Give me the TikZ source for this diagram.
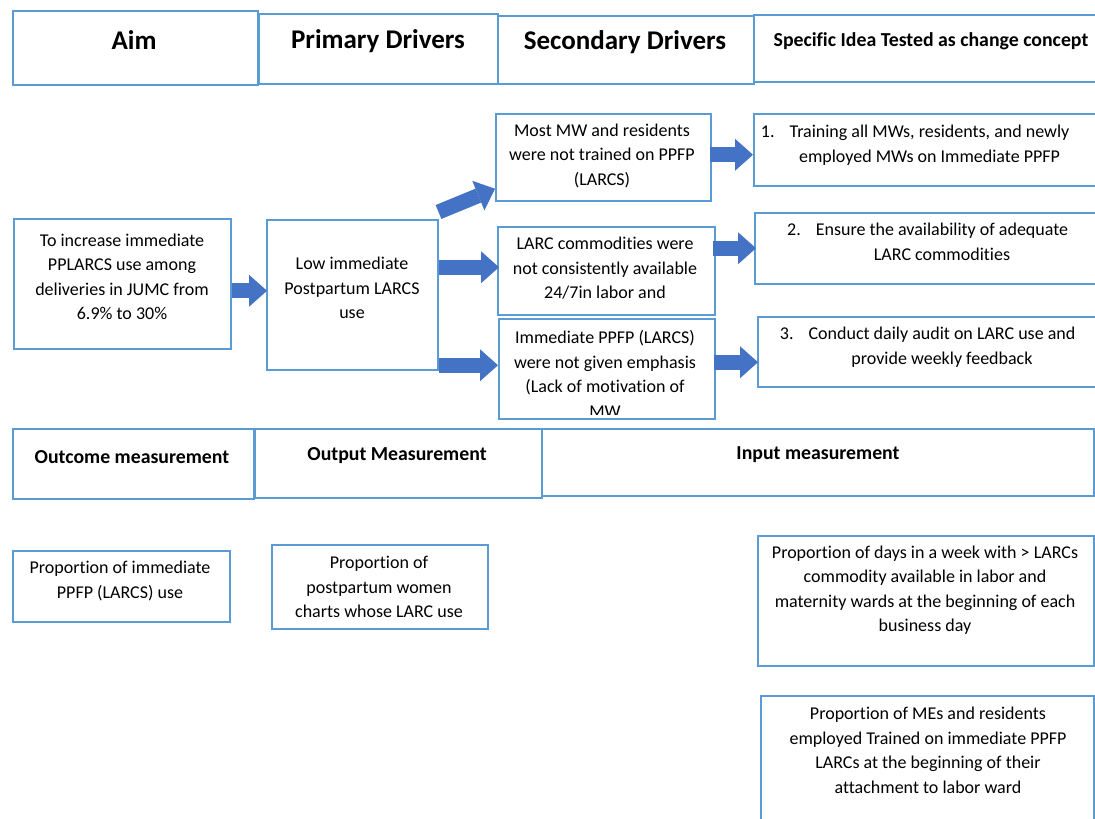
\documentclass[tikz,border=0pt]{standalone}
\usepackage{fontspec}
\setmainfont{Carlito}[Ligatures=CommonOff]
\usetikzlibrary{arrows.meta,calc}
\definecolor{boxblue}{RGB}{91,155,213}
\definecolor{arrblue}{RGB}{68,114,196}
\tikzset{
  box/.style={draw=boxblue, line width=1.5pt, rectangle, inner sep=0pt, anchor=north west},
  txt/.style={align=center, inner sep=0pt, font=\fontsize{18}{24.5}\selectfont},
  hdr/.style={inner sep=0pt, font=\bfseries\fontsize{27}{30}\selectfont},
  hdrs/.style={inner sep=0pt, font=\bfseries\fontsize{19.8}{24}\selectfont},
  blk/.style={draw=arrblue, line width=15pt, -{Triangle[width=32pt,length=18pt,line width=0pt]}},
}
\begin{document}
\begin{tikzpicture}[x=1pt,y=-1pt]
\fill[white] (0,0) rectangle (1095,819);
\clip (0,0) rectangle (1095,819);

% top headers
\node[box, minimum width=245pt, minimum height=74pt] (hAim) at (12,10) {};
\node[box, minimum width=239pt, minimum height=70pt] (hPri) at (258,13) {};
\node[box, minimum width=256pt, minimum height=68pt] (hSec) at (497,15) {};
\node[box, minimum width=400pt, minimum height=67pt] (hIdea) at (753,14) {};
\node[hdr] (tAim) at (134,40) {Aim};
\node[hdr] (tPri) at (378,41) {Primary Drivers};
\node[hdr] (tSec) at (625,42) {Secondary Drivers};
\node[hdrs] (tIdea) at (931,41) {Specific Idea Tested as change concept};

% main boxes
\node[box, minimum width=217pt, minimum height=130pt] (aim) at (13,218) {};
\node[txt] (aimT) at (122,277) {To increase immediate\\PPLARCS use among\\deliveries in JUMC from\\6.9\% to 30\%};
\node[box, minimum width=171pt, minimum height=150pt] (low) at (266,219) {};
\node[txt] (lowT) at (352,288) {Low immediate\\Postpartum LARCS\\use};

\node[box, minimum width=215pt, minimum height=87pt] (sec1) at (495,113) {};
\node[txt] (sec1T) at (602,155.5) {Most MW and residents\\were not trained on PPFP\\(LARCS)};
\node[box, minimum width=217pt, minimum height=88pt] (sec2) at (497,226) {};
\node[txt] (sec2T) at (605,268.5) {LARC commodities were\\not consistently available\\24/7in labor and};
\node[box, minimum width=216pt, minimum height=100pt] (sec3) at (498,318) {};
\begin{scope}
  \clip (sec3.north west) rectangle ($(sec3.south east)+(0,-5)$);
  \node[txt] (sec3T) at (605,374) {Immediate PPFP (LARCS)\\were not given emphasis\\(Lack of motivation of\\MW};
\end{scope}

\node[box, minimum width=400pt, minimum height=72pt] (idea1) at (753,113) {};
\node[txt] (idea1T) at (929.5,145) {\llap{1.\hspace{15pt}}Training all MWs, residents, and newly\\employed MWs on Immediate PPFP};
\node[box, minimum width=400pt, minimum height=71pt] (idea2) at (754,212) {};
\node[txt] (idea2T) at (942,242) {\llap{2.\hspace{15pt}}Ensure the availability of adequate\\LARC commodities};
\node[box, minimum width=400pt, minimum height=70pt] (idea3) at (757,316) {};
\node[txt] (idea3T) at (942,347) {\llap{3.\hspace{15pt}}Conduct daily audit on LARC use and\\provide weekly feedback};

% arrows
\draw[blk] ($(aim.east)+(0,7)$) -- ($(low.west)+(1,-4)$);
\draw[blk] ($(low.north east)+(0,-7)$) -- ($(sec1.west)+(0,31.5)$);
\draw[blk] ($(low.east)+(0,-27.5)$) -- ($(sec2.west)+(2,-3.5)$);
\draw[blk] ($(low.east)+(0,70.5)$) -- ($(sec3.west)+(0,-3.5)$);
\draw[blk] ($(sec1.east)+(-2,-2.5)$) -- ($(idea1.west)+(0,5)$);
\draw[blk] ($(sec2.east)+(-3,-22.5)$) -- ($(idea2.west)+(2,0)$);
\draw[blk] ($(sec3.east)+(-2,-6.5)$) -- ($(idea3.west)+(1,10.5)$);

% measurement headers
\node[box, minimum width=241pt, minimum height=70pt] (mOut) at (12,428) {};
\node[box, minimum width=287pt, minimum height=69pt] (mOutp) at (254,428) {};
\node[box, minimum width=552pt, minimum height=67pt] (mIn) at (541,428) {};
\node[hdrs] (tOut) at (132,457) {Outcome measurement};
\node[hdrs] (tOutp) at (397,456) {Output Measurement};
\node[hdrs] (tIn) at (818,455) {Input measurement};

% bottom boxes
\node[box, minimum width=217pt, minimum height=71pt] (b1) at (12,550) {};
\node[txt] (b1T) at (120,581) {Proportion of immediate\\PPFP (LARCS) use};
\node[box, minimum width=216pt, minimum height=84pt] (b2) at (271,544) {};
\node[txt] (b2T) at (379,587) {Proportion of\\postpartum women\\charts whose LARC use};
\node[box, minimum width=336pt, minimum height=130pt] (b3) at (757,535) {};
\node[txt] (b3T) at (925,590) {Proportion of days in a week with > LARCs\\commodity available in labor and\\maternity wards at the beginning of each\\business day};
\node[box, minimum width=333pt, minimum height=200pt] (b4) at (760,695) {};
\node[txt] (b4T) at (928,750.5) {Proportion of MEs and residents\\employed Trained on immediate PPFP\\LARCs at the beginning of their\\attachment to labor ward};
\end{tikzpicture}
\end{document}
